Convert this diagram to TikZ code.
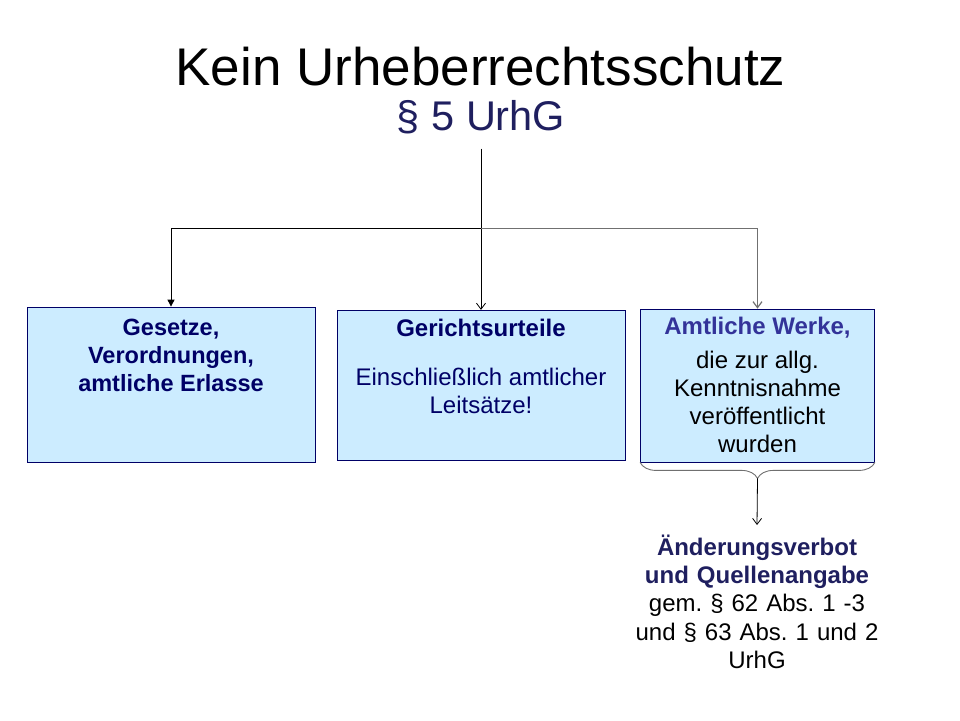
\documentclass[tikz,border=0pt]{standalone}
\usepackage{fontspec}
\setmainfont{Liberation Sans}
\usetikzlibrary{arrows.meta,decorations.pathreplacing}

\definecolor{boxfill}{RGB}{204,236,255}
\definecolor{navy}{RGB}{0,0,102}
\definecolor{darknavy}{RGB}{31,31,95}
\definecolor{midnavy}{RGB}{51,51,153}
\definecolor{linegray}{RGB}{112,112,112}

\newcommand{\topbox}[3]{\begin{minipage}[t][#2][t]{#1}\centering #3\end{minipage}}

\begin{document}
\frenchspacing
\begin{tikzpicture}[x=1pt,y=-1pt,
    box/.style={draw=navy, fill=boxfill, line width=0.8pt, inner sep=0pt},
    vtip/.style={-{Straight Barb[length=6pt,width=9pt]}, line width=0.8pt},
    filltip/.style={-{Triangle[length=7pt,width=7pt]}, line width=0.9pt},
    brace/.style={decorate, decoration={brace, mirror, amplitude=16pt}, line width=0.9pt, draw=linegray}]
  \useasboundingbox (0,0) rectangle (960,720);

  % heading
  \node[anchor=base, font=\fontsize{53}{60}\selectfont] (title) at (480.5,85) {Kein Urheberrechtsschutz};
  \node[anchor=base, inner ysep=15pt, text=darknavy, font=\fontsize{41.5}{48}\selectfont] (sub) at (481,130) {§ 5 UrhG};

  % the three boxes
  \node[box] (ges) at (171,384.5) {\topbox{288pt}{155pt}{%
    \fontsize{23.5}{28}\selectfont\bfseries\color{navy}%
    \rule{0pt}{28pt}Gesetze,\\ Verordnungen,\\ amtliche Erlasse}};
  \node[box] (ger) at (481,385.3) {\topbox{288pt}{150pt}{%
    \fontsize{24}{28}\selectfont\color{navy}%
    {\bfseries\rule{0pt}{26.5pt}Gerichtsurteile}\\[20.5pt]
    Einschließlich amtlicher\\ Leitsätze!}};
  \node[box] (amt) at (757.5,385.5) {\topbox{234pt}{153pt}{%
    \fontsize{24}{28}\selectfont
    {\bfseries\color{midnavy}\rule{0pt}{25.3pt}Amtliche Werke,}\\[6pt]
    die zur allg.\\ Kenntnisnahme\\ veröffentlicht\\ wurden}};

  % note below
  \node[anchor=north, inner sep=0pt, text width=250pt, align=center,
        font=\fontsize{24}{28.3}\selectfont] (aend) at (757,525)
    {{\bfseries\color{darknavy}\rule{0pt}{30pt}Änderungsverbot\\ und Quellenangabe}\\
     gem. § 62 Abs. 1 -3\\ und § 63 Abs. 1 und 2\\ UrhG};

  % connectors
  \coordinate (fork) at (481,228.7);
  \draw[vtip] (sub.south) -- (ger.north);
  \draw[filltip] (fork) -| (ges.north);
  \draw[vtip, draw=linegray, line width=1.2pt] (fork) -| (amt.north);
  \draw[brace] (amt.south west) -- (amt.south east);
  \coordinate (bracetip) at ([yshift=-16pt]amt.south);
  \draw[vtip] (bracetip) -- (aend.north);
\end{tikzpicture}
\end{document}
